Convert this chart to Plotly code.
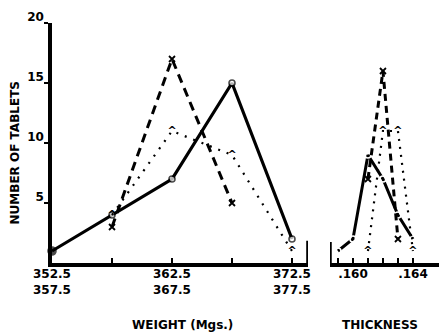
import plotly.graph_objects as go

# ---- data ----
weight_x = [352.5, 357.5, 362.5, 367.5, 372.5]
weight_solid = [1, 4, 7, 15, 2]
weight_dash_x = [357.5, 362.5, 367.5]
weight_dash = [3, 17, 5]
weight_dot_x = [357.5, 362.5, 367.5, 372.5]
weight_dot = [4, 11, 9, 1]

thick_solid_x = [0.159, 0.160, 0.161, 0.162, 0.163, 0.164]
thick_solid = [1, 2, 9, 7, 4, 2]
thick_dash_x = [0.161, 0.162, 0.163]
thick_dash = [7, 16, 2]
thick_dot_x = [0.161, 0.162, 0.163, 0.164]
thick_dot = [1, 11, 11, 1]

y_ticks = [5, 10, 15, 20]
w_ticks = [352.5, 357.5, 362.5, 367.5, 372.5]
w_ticktext = ["352.5<br>357.5", "", "362.5<br>367.5", "", "372.5<br>377.5"]
t_ticks = [0.159, 0.160, 0.161, 0.162, 0.163, 0.164]
t_ticktext = ["", ".160", "", "", "", ".164"]

FONT = "DejaVu Sans"
BLK = "black"

fig = go.Figure()

# weight panel
fig.add_trace(go.Scatter(
    x=weight_x, y=weight_solid, mode="lines+markers", xaxis="x", yaxis="y",
    line=dict(color=BLK, width=3.2),
    marker=dict(symbol="circle", size=[8, 6, 6, 6, 6],
                color=[BLK, "white", "white", "white", "white"], line=dict(color=BLK, width=1.6)),
    cliponaxis=False, showlegend=False))
fig.add_trace(go.Scatter(
    x=weight_dash_x, y=weight_dash, mode="lines+markers", xaxis="x", yaxis="y",
    line=dict(color=BLK, width=3, dash="9px,6px"),
    marker=dict(symbol="x-thin", size=6, line=dict(color=BLK, width=1.8)),
    cliponaxis=False, showlegend=False))
fig.add_trace(go.Scatter(
    x=weight_dot_x, y=weight_dot, mode="lines+text", xaxis="x", yaxis="y",
    line=dict(color=BLK, width=2.2, dash="2px,7px"),
    text=["^"] * len(weight_dot), textposition="middle center",
    textfont=dict(family=FONT, size=11, color=BLK, weight="bold"),
    cliponaxis=False, showlegend=False))

# thickness panel
fig.add_trace(go.Scatter(
    x=thick_solid_x, y=thick_solid, mode="lines+markers", xaxis="x2", yaxis="y2",
    line=dict(color=BLK, width=3),
    marker=dict(symbol="circle-open", size=6, color="white", line=dict(color=BLK, width=1.6)),
    cliponaxis=False, showlegend=False))
fig.add_trace(go.Scatter(
    x=thick_dash_x, y=thick_dash, mode="lines+markers", xaxis="x2", yaxis="y2",
    line=dict(color=BLK, width=3, dash="7px,5px"),
    marker=dict(symbol="x-thin", size=6, line=dict(color=BLK, width=1.8)),
    cliponaxis=False, showlegend=False))
fig.add_trace(go.Scatter(
    x=thick_dot_x, y=thick_dot, mode="lines+text", xaxis="x2", yaxis="y2",
    line=dict(color=BLK, width=2.2, dash="2px,6px"),
    text=["^"] * len(thick_dot), textposition="middle center",
    textfont=dict(family=FONT, size=11, color=BLK, weight="bold"),
    cliponaxis=False, showlegend=False))

tickfont = dict(family=FONT, size=12, color=BLK, weight="bold")

fig.update_layout(
    width=439, height=325,
    margin=dict(l=44, r=0, t=15, b=70),
    paper_bgcolor="white", plot_bgcolor="white",
    font=dict(family=FONT, color=BLK),
    xaxis=dict(domain=[0, 0.648], range=[352.5, 373.83], tickvals=w_ticks, ticktext=w_ticktext,
               ticks="inside", ticklen=5, tickwidth=1.5, tickcolor=BLK, automargin=False,
               showline=True, linewidth=3.5, linecolor=BLK, showgrid=False, zeroline=False,
               tickfont=tickfont, ticklabelstandoff=-3),
    yaxis=dict(range=[0, 20], tickvals=y_ticks, ticks="outside", ticklen=4, tickwidth=1.5,
               tickcolor=BLK, showline=True, linewidth=3.5, linecolor=BLK, showgrid=False,
               zeroline=False, tickfont=tickfont, ticklabelshift=-6, ticklabelstandoff=-2,
               automargin=False),
    xaxis2=dict(domain=[0.7038, 1], range=[0.15847, 0.16627], tickvals=t_ticks, ticktext=t_ticktext,
                ticks="inside", ticklen=5, tickwidth=1.5, tickcolor=BLK, automargin=False,
                showline=True, linewidth=3.5, linecolor=BLK, showgrid=False, zeroline=False,
                tickfont=tickfont, anchor="y2", ticklabelstandoff=-3),
    yaxis2=dict(range=[0, 20], matches="y", anchor="x2", visible=False, automargin=False),
    shapes=[
        dict(type="line", xref="x", yref="y", x0=373.83, x1=373.83, y0=0, y1=1.85,
             line=dict(color=BLK, width=3.5)),
        dict(type="line", xref="x2", yref="y2", x0=0.15847, x1=0.15847, y0=0, y1=1.75,
             line=dict(color=BLK, width=3.5)),
    ],
    annotations=[
        dict(text="NUMBER OF TABLETS", xref="paper", yref="paper", x=-0.094, y=0.46,
             xanchor="center", yanchor="middle",
             textangle=-90, showarrow=False, font=dict(family=FONT, size=12, weight="bold")),
        dict(text="WEIGHT (Mgs.)", xref="paper", yref="paper", x=0.33, y=-0.258,
             xanchor="center", yanchor="middle",
             showarrow=False, font=dict(family=FONT, size=12, weight="bold")),
        dict(text="THICKNESS", xref="paper", yref="paper", x=0.83, y=-0.258,
             xanchor="center", yanchor="middle",
             showarrow=False, font=dict(family=FONT, size=12, weight="bold")),
    ],
)

fig.write_html("out.html")
